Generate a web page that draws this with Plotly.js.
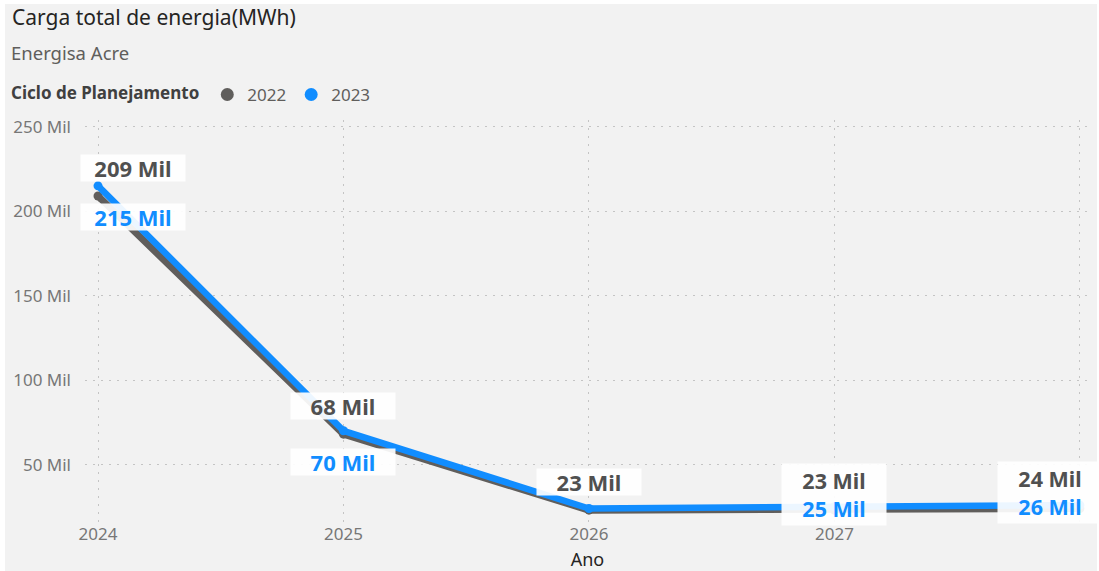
<!DOCTYPE html>
<html><head><meta charset="utf-8">
<script src="https://cdn.plot.ly/plotly-3.0.1.min.js"></script>
<style>html,body{margin:0;padding:0;background:#ffffff;overflow:hidden;} #chart{position:absolute;left:5px;top:4px;width:1092px;height:567px;}</style>
</head><body><div id="chart"></div>
<script>
// ---- data ----
const years = [2024, 2025, 2026, 2027, 2028];
const carga2022 = [209000, 68000, 23000, 23000, 24000];
const carga2023 = [215000, 70000, 24000, 25000, 26000];
const seriesNames = ['2022', '2023'];
const yTickVals = [50000, 100000, 150000, 200000, 250000];
const yTickText = ['50 Mil', '100 Mil', '150 Mil', '200 Mil', '250 Mil'];
const xTickText = ['2024', '2025', '2026', '2027', '2028'];

// ---- style ----
const FONT = "'Segoe UI', 'Noto Sans', sans-serif";
const GRAY = '#605E5C';
const LABEL_GRAY = '#505050';
const BLUE = '#118DFF';
const fmt = v => Math.round(v / 1000) + ' Mil';

const traces = [
  {x: years, y: carga2022, name: seriesNames[0], mode: 'lines+markers', showlegend: false,
   line: {color: GRAY, width: 7}, marker: {color: GRAY, size: 9}, hoverinfo: 'x+y'},
  {x: years, y: carga2023, name: seriesNames[1], mode: 'lines+markers', showlegend: false,
   line: {color: BLUE, width: 6.5}, marker: {color: BLUE, size: 9}, hoverinfo: 'x+y'},
  {x: [null], y: [null], name: seriesNames[0], mode: 'markers', marker: {color: GRAY, size: 13}, hoverinfo: 'skip'},
  {x: [null], y: [null], name: seriesNames[1], mode: 'markers', marker: {color: BLUE, size: 13}, hoverinfo: 'skip'}
];

// data labels
const annotations = [];
const n = years.length;
const boxStyle = {showarrow: false, xanchor: 'center', yanchor: 'middle', bgcolor: 'rgba(255,255,255,0.92)',
  borderpad: 2, width: 100, xref: 'x', yref: 'y'};
years.forEach((yr, i) => {
  let xs = 0;
  if (i === 0) xs = 35;
  if (i === n - 1) xs = -30;
  const g = '<b>' + fmt(carga2022[i]) + '</b>';
  const b = '<b>' + fmt(carga2023[i]) + '</b>';
  if (i >= 3) {
    // both labels stacked in one box
    annotations.push(Object.assign({}, boxStyle, {x: yr, y: carga2022[i],
      text: '<span style="color:' + LABEL_GRAY + '">' + g + '</span><br><span style="color:' + BLUE + '">' + b + '</span>',
      xshift: xs, yshift: 15.5, font: {family: FONT, size: 21.5, color: LABEL_GRAY}}));
    return;
  }
  annotations.push(Object.assign({}, boxStyle, {x: yr, y: carga2022[i], text: g, height: 21.5,
    xshift: xs, yshift: 28.5, font: {family: FONT, size: 22, color: LABEL_GRAY}}));
  if (i === 2) return; // hidden (overlapping) label
  annotations.push(Object.assign({}, boxStyle, {x: yr, y: carga2023[i], text: b, height: 21.5,
    xshift: xs, yshift: -31, font: {family: FONT, size: 22, color: BLUE}}));
});

// subtitle
annotations.push({xref: 'paper', yref: 'paper', x: -0.0756, y: 1.169, xanchor: 'left', yanchor: 'middle',
  text: 'Energisa Acre', showarrow: false, font: {family: FONT, size: 18.5, color: GRAY}});

const layout = {
  width: 1092, height: 567,
  paper_bgcolor: '#F2F2F2', plot_bgcolor: '#F2F2F2',
  margin: {l: 80, r: 7, t: 116, b: 49},
  font: {family: FONT},
  title: {text: 'Carga total de energia(MWh)', xref: 'container', yref: 'container', x: 0.0064, xanchor: 'left',
    y: 0.9753, yanchor: 'middle', font: {family: FONT, size: 21, color: '#252423'}},
  showlegend: true,
  legend: {orientation: 'h', xref: 'container', yref: 'container', x: 0.0037, xanchor: 'left', y: 0.8713, yanchor: 'top',
    title: {text: '<b>Ciclo de Planejamento</b>', side: 'left', font: {family: FONT, size: 17, color: '#404040'}},
    font: {family: FONT, size: 17, color: GRAY}, itemwidth: 30, bgcolor: 'rgba(0,0,0,0)', traceorder: 'normal'},
  xaxis: {range: [2023.947, 2028.041], tickvals: years, ticktext: xTickText, showgrid: true, automargin: false,
    griddash: '2px,6px', gridcolor: '#c4c4c4', gridwidth: 1, zeroline: false, showline: false,
    tickfont: {family: FONT, size: 17, color: '#777777'},
    title: {text: 'Ano', font: {family: FONT, size: 18, color: '#252423'}, standoff: 12}},
  yaxis: {range: [16000, 254000], tickvals: yTickVals, ticktext: yTickText, showgrid: true, automargin: false,
    griddash: '2px,6px', gridcolor: '#c4c4c4', gridwidth: 1, zeroline: false, showline: false,
    ticklabelstandoff: 13, tickfont: {family: FONT, size: 17, color: '#777777'}},
  annotations: annotations
};

Plotly.newPlot('chart', traces, layout, {displayModeBar: false, staticPlot: true});
</script></body></html>
